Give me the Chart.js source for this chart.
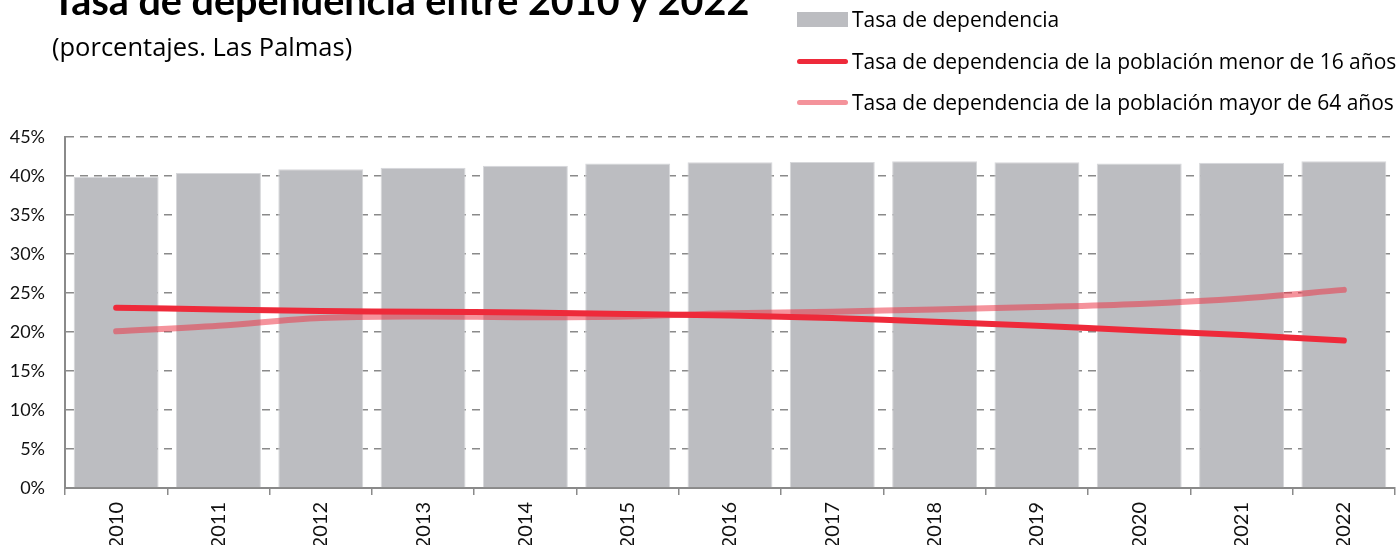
<!DOCTYPE html>
<html lang="es">

<head>
    <meta charset="UTF-8">
    <title>Tasa de dependencia entre 2010 y 2022</title>
    <style>
        html, body { margin: 0; padding: 0; background: #fff; overflow: hidden; }
        body { width: 1397px; height: 545px; position: relative; font-family: "Open Sans", "Liberation Sans", sans-serif; color: #000; }
        #title { position: absolute; left: 52px; top: -20px; font-family: Lato, sans-serif; font-size: 39.5px; line-height: 40px; font-weight: bold; white-space: nowrap; }
        #subtitle { position: absolute; left: 52px; top: 34px; font-size: 25.5px; line-height: 25.5px; white-space: nowrap; }
        .leg { position: absolute; left: 797px; height: 24px; display: flex; align-items: center; font-size: 21px; white-space: nowrap; }
        .sw-box { width: 51px; height: 15px; background: #bcbdc1; margin-right: 4px; }
        .sw-line { width: 51px; height: 5px; border-radius: 3px; margin-right: 4px; }
        #wrap { position: absolute; left: 0; top: 0; width: 1397px; height: 545px; }
    </style>
</head>

<body>
    <div id="wrap"><canvas id="myChart" width="1397" height="545"></canvas></div>
    <div id="title">Tasa de dependencia entre 2010 y 2022</div>
    <div id="subtitle">(porcentajes. Las Palmas)</div>
    <div class="leg" style="top: 7px;"><span class="sw-box"></span>Tasa de dependencia</div>
    <div class="leg" style="top: 49px;"><span class="sw-line" style="background: #ee2a3a;"></span>Tasa de dependencia de la población menor de 16 años</div>
    <div class="leg" style="top: 90px;"><span class="sw-line" style="background: #f4939b;"></span>Tasa de dependencia de la población mayor de 64 años</div>

    <script src="https://cdn.jsdelivr.net/npm/chart.js@4/dist/chart.umd.min.js"></script>
    <script>
        // datos (porcentajes)
        const years = ['2010', '2011', '2012', '2013', '2014', '2015', '2016', '2017', '2018', '2019', '2020', '2021', '2022'];
        const tasaTotal = [39.9, 40.4, 40.85, 41.05, 41.3, 41.6, 41.75, 41.8, 41.9, 41.75, 41.6, 41.7, 41.9];
        const tasaMenor16 = [23.1, 22.9, 22.7, 22.6, 22.5, 22.3, 22.1, 21.8, 21.3, 20.8, 20.2, 19.6, 18.9];
        const tasaMayor64 = [20.1, 20.8, 21.8, 22.0, 21.9, 22.0, 22.4, 22.6, 22.9, 23.2, 23.6, 24.3, 25.4];
        const yTicks = [0, 5, 10, 15, 20, 25, 30, 35, 40, 45];

        const gridGrey = '#8a8a8a';

        var ctx = document.getElementById('myChart');
        var config = {
            type: 'bar',
            data: {
                labels: years,
                datasets: [
                    {
                        type: 'line',
                        label: 'Tasa de dependencia de la población menor de 16 años',
                        data: tasaMenor16,
                        borderColor: '#ee2a3a',
                        borderWidth: 6,
                        borderCapStyle: 'round',
                        pointRadius: 0,
                        tension: 0.35,
                        order: 1
                    },
                    {
                        type: 'line',
                        label: 'Tasa de dependencia de la población mayor de 64 años',
                        data: tasaMayor64,
                        borderColor: 'rgba(236, 51, 68, 0.53)',
                        borderWidth: 6,
                        borderCapStyle: 'round',
                        pointRadius: 0,
                        tension: 0.35,
                        order: 2
                    },
                    {
                        label: 'Tasa de dependencia',
                        data: tasaTotal,
                        backgroundColor: '#bcbdc1',
                        borderColor: '#d6d7da',
                        borderWidth: 1,
                        barPercentage: 0.83,
                        categoryPercentage: 1,
                        order: 3
                    }
                ]
            },
            options: {
                responsive: false,
                animation: false,
                layout: { padding: { top: 137, right: 2, left: 0, bottom: 0 } },
                plugins: {
                    legend: { display: false },
                    tooltip: { enabled: false }
                },
                scales: {
                    x: {
                        offset: true,
                        grid: { offset: true, drawOnChartArea: false, drawTicks: true, tickLength: 7, color: gridGrey, lineWidth: 1.5 },
                        border: { display: true, color: gridGrey, width: 2 },
                        ticks: { maxRotation: 90, minRotation: 90, padding: 7, color: '#111', font: { family: 'Lato', size: 20 } },
                        afterFit: scale => { scale.height = 57; }
                    },
                    y: {
                        min: 0,
                        max: 45,
                        afterBuildTicks: scale => { scale.ticks = yTicks.map(v => ({ value: v })); },
                        grid: { drawTicks: false, color: gridGrey, lineWidth: 1.5 },
                        border: { display: true, color: gridGrey, width: 2, dash: [8, 6] },
                        ticks: { padding: 20, color: '#111', font: { family: 'Lato', size: 18 }, callback: v => v + '%' },
                        afterFit: scale => { scale.width = 65; }
                    }
                }
            }
        };
        var chart = new Chart(ctx, config);
    </script>

</body>

</html>
